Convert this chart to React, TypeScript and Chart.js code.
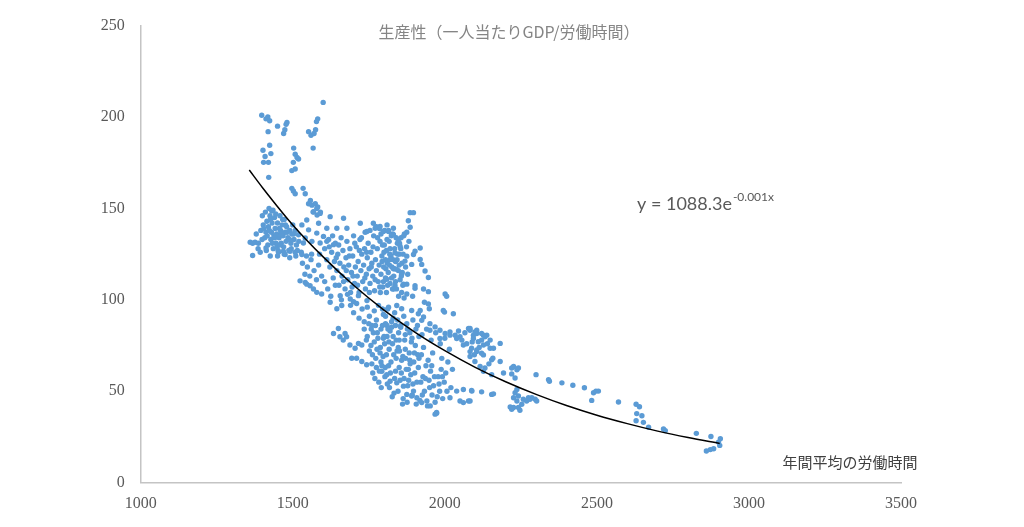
import React, { useEffect, useRef } from "react";
import { Chart, registerables } from "chart.js";

Chart.register(...registerables);

const chartTitle = "生産性（一人当たりGDP/労働時間）";
const xAxisTitle = "年間平均の労働時間";
const equationMain = "y = 1088.3e";
const equationExp = "-0.001x";

const xTicks = [1000, 1500, 2000, 2500, 3000, 3500];
const yTicks = [0, 50, 100, 150, 200, 250];

// Trend line (hours, productivity)
const trendHours = [1357, 1400, 1500, 1600, 1700, 1800, 1900, 2000, 2100, 2200, 2300, 2400, 2500, 2600, 2700, 2800, 2904];
const trendValues = [171, 161.5, 141, 123.5, 108, 94.4, 82.5, 72.2, 63.1, 55.2, 48.3, 42.2, 36.9, 32.3, 28.2, 24.7, 21.5];

// Scatter observations [annual hours, productivity]
const upperStreaks: [number, number][] = [
  [1600, 208], [1398, 201], [1412, 199], [1418, 200], [1424, 198], [1419, 192], [1450, 195], [1470, 191], [1474, 193], [1478, 196], [1481, 197],
  [1582, 199], [1578, 197.5], [1575, 193], [1552, 192], [1560, 190], [1570, 191], [1503, 183], [1567, 183], [1402, 181.8], [1424, 184.6],
  [1428, 180], [1409, 178.4], [1404, 175.2], [1420, 175.2], [1508, 179.6], [1514, 177.9], [1519, 177], [1502, 175.2], [1497, 170.7], [1508, 171.6],
  [1421, 167], [1497, 161], [1508, 158], [1502, 159.5], [1534, 161], [1541, 158], [1558, 154.4], [1552, 152.6], [1574, 152.6], [1582, 150.8],
  [1567, 148], [1591, 148], [1580, 146.4], [1431, 148.6],
];

const leftCluster: [number, number][] = [
  [1360, 131.5], [1368, 131], [1376, 131.5], [1387, 131], [1368, 124.3], [1380, 136], [1395, 138], [1403, 141], [1408, 134], [1412, 137],
  [1415, 143], [1418, 130], [1420, 140], [1425, 146], [1428, 133], [1430, 137], [1432, 142], [1436, 128], [1438, 135], [1440, 145],
  [1442, 139], [1445, 131], [1447, 136], [1450, 142], [1452, 127], [1455, 134], [1458, 146], [1460, 138], [1462, 131], [1465, 141],
  [1468, 135], [1470, 129], [1472, 144], [1475, 137], [1478, 132], [1480, 140], [1484, 134], [1487, 127], [1490, 138], [1494, 131],
  [1497, 136], [1500, 141], [1504, 133], [1508, 138], [1512, 130], [1400, 146], [1410, 148], [1422, 150], [1435, 149], [1413, 127],
  [1393, 126], [1426, 124], [1450, 124], [1472, 125], [1490, 123], [1510, 124], [1528, 126], [1545, 124], [1560, 122], [1520, 132],
  [1453, 126], [1469, 126.6], [1491, 126.6], [1508, 126], [1530, 124.8], [1475, 124.8], [1412, 128.4], [1535, 131.1],
  [1405, 139], [1416, 135], [1423, 138], [1433, 131], [1441, 134], [1448, 129], [1456, 139], [1463, 136], [1467, 144], [1476, 141],
  [1482, 137], [1489, 133], [1495, 128], [1503, 136], [1515, 127], [1444, 147], [1427, 144], [1399, 133], [1386, 128], [1457, 130],
  [1563, 151.8], [1579, 150], [1568, 148.2], [1590, 147.3], [1623, 145.5], [1667, 144.6], [1585, 141.9], [1612, 139.2], [1645, 139.2],
  [1678, 139.2], [1546, 143.7], [1530, 141], [1552, 138.3], [1579, 136.5], [1601, 134.7], [1519, 135.6], [1541, 133.8], [1563, 132],
  [1590, 131.1], [1612, 132], [1634, 130.2],
  [1532, 120], [1548, 118], [1556, 113], [1570, 116], [1585, 119], [1595, 113], [1578, 111], [1540, 114], [1562, 125], [1588, 125],
  [1524, 110.4], [1541, 109.5], [1557, 107.7], [1568, 105.9], [1546, 108.6], [1579, 104.1], [1595, 103.2],
];

const centralMass: [number, number][] = [
  [1605, 128], [1612, 122], [1618, 133], [1622, 118], [1628, 126], [1633, 112], [1637, 121], [1640, 131], [1645, 116], [1648, 125],
  [1652, 108], [1655, 120], [1659, 134], [1662, 113], [1665, 127], [1668, 118], [1672, 106], [1675, 123], [1678, 132], [1681, 111],
  [1684, 119], [1688, 128], [1690, 104], [1693, 115], [1697, 124], [1700, 135], [1703, 109], [1706, 118], [1709, 129], [1712, 113],
  [1715, 121], [1718, 104], [1721, 133], [1724, 116], [1727, 125], [1730, 110], [1733, 119], [1736, 128], [1739, 106], [1742, 114],
  [1745, 123], [1748, 131], [1751, 117], [1754, 109], [1757, 126], [1760, 120], [1763, 113], [1766, 135], [1769, 105], [1772, 122],
  [1775, 116], [1778, 128], [1781, 110], [1784, 119], [1787, 132], [1790, 114], [1793, 124], [1796, 107], [1799, 118], [1802, 138],
  [1805, 112], [1808, 127], [1811, 120], [1814, 115], [1817, 132], [1820, 109], [1823, 124], [1826, 118], [1829, 136], [1832, 113],
  [1835, 128], [1838, 121], [1841, 106], [1844, 131], [1847, 116], [1850, 125], [1853, 111], [1856, 134], [1859, 120], [1862, 108],
  [1790, 136], [1795, 130], [1800, 126], [1805, 122], [1810, 133], [1815, 138], [1820, 128], [1825, 112], [1830, 122], [1835, 117],
  [1840, 134], [1845, 125], [1850, 119], [1855, 128], [1860, 115], [1788, 104], [1798, 110], [1808, 104], [1818, 119], [1828, 106],
  [1838, 110], [1848, 102], [1858, 104], [1775, 140], [1785, 139], [1810, 141],
  [1620, 129], [1631, 135], [1643, 123], [1651, 130], [1667, 110], [1676, 116], [1686, 124], [1698, 113], [1704, 131], [1713, 108],
  [1719, 127], [1726, 134], [1737, 112], [1743, 126], [1752, 104], [1758, 118], [1764, 129], [1771, 111], [1779, 134], [1786, 107],
  [1794, 121], [1801, 130], [1806, 117], [1812, 108], [1819, 125], [1824, 135], [1831, 117], [1836, 108], [1843, 122], [1851, 131],
  [1857, 113], [1863, 125], [1867, 136], [1871, 118], [1874, 129], [1878, 114], [1882, 132], [1866, 101], [1738, 137], [1754, 138],
  [1605, 110], [1615, 106], [1625, 102], [1640, 108], [1660, 100], [1680, 103], [1700, 99], [1695, 107],
  [1656, 102.3], [1689, 100.5], [1716, 102.3], [1744, 99.6], [1661, 96.9], [1623, 98.7], [1645, 95.1],
];

const upperRight: [number, number][] = [
  [1722, 141.9], [1744, 137.4], [1765, 141.9], [1771, 139.2], [1787, 140.1], [1798, 137.4], [1815, 137.4], [1826, 135.6], [1831, 139.2],
  [1886, 147.7], [1897, 147.7], [1880, 143.3], [1886, 139.7], [1875, 137], [1865, 135],
  [1919, 128.4], [1902, 126.6], [1897, 124.8], [1875, 123.9], [1869, 121.2], [1891, 119.4], [1919, 122.1], [1924, 119.4], [1935, 115.8],
  [1946, 112.2], [1864, 108.6], [1875, 108.6], [1902, 107.7], [1902, 106.3], [1875, 103.2], [1894, 102], [1930, 105.9], [1946, 104.5],
  [1933, 98.7], [1949, 95.1], [2001, 103.2], [2006, 102], [1999, 93.3], [2028, 92.4],
  [1831, 135.6], [1847, 132.9], [1853, 129.3], [1836, 125.7], [1820, 122.1], [1842, 116.7], [1858, 114], [1809, 111.3], [1831, 105.9],
];

const lowerMass: [number, number][] = [
  [1634, 81.6], [1650, 84.3], [1672, 81.6], [1666, 78], [1655, 79.8], [1677, 79.8], [1688, 75.3], [1705, 73.5], [1716, 76.2], [1727, 75.3],
  [1694, 68.1], [1710, 68.1], [1727, 66.3], [1743, 64.5],
  [1690, 97], [1700, 93], [1710, 98], [1718, 90], [1728, 95], [1735, 88], [1745, 96], [1752, 91], [1760, 86], [1768, 94], [1775, 89],
  [1782, 97], [1790, 84], [1798, 92], [1805, 87], [1812, 95], [1820, 83], [1830, 90], [1838, 86],
  [1735, 84], [1742, 78], [1750, 87], [1757, 75], [1765, 82], [1772, 86], [1780, 79], [1787, 71], [1795, 86], [1802, 76], [1810, 80],
  [1817, 73], [1825, 85], [1832, 70], [1840, 78], [1847, 74], [1855, 86], [1862, 69], [1870, 73], [1877, 84], [1885, 67], [1892, 79],
  [1900, 71], [1760, 65], [1775, 63], [1790, 66], [1815, 64], [1850, 63], [1880, 62],
  [1795, 95], [1805, 91], [1815, 96], [1825, 88], [1835, 93], [1845, 89], [1855, 85], [1865, 91], [1875, 87], [1885, 82], [1895, 89],
  [1905, 84], [1915, 80], [1800, 80], [1810, 86], [1830, 80], [1850, 78], [1870, 81], [1890, 77],
  [1842, 96.9], [1858, 95.1], [1891, 94.2], [1913, 92.4], [1930, 90.6], [1924, 88.8], [1951, 87], [1968, 85.2], [1951, 83.4], [1984, 83.4],
  [1995, 94.2], [1946, 97.8], [1919, 94.2],
];

const bottomMass: [number, number][] = [
  [1745, 80], [1752, 72], [1758, 84], [1763, 60], [1768, 77], [1773, 68], [1778, 82], [1783, 55], [1788, 74], [1793, 64], [1798, 79],
  [1803, 58], [1808, 70], [1813, 84], [1818, 52], [1823, 66], [1828, 76], [1833, 49], [1838, 61], [1843, 72], [1848, 82], [1853, 56],
  [1858, 67], [1863, 46], [1868, 78], [1873, 62], [1878, 53], [1883, 71], [1888, 59], [1893, 48], [1898, 66], [1903, 75], [1908, 55],
  [1913, 63], [1918, 45], [1923, 70], [1928, 58], [1933, 50], [1938, 64], [1943, 42], [1948, 56], [1953, 61], [1958, 48], [1963, 53],
  [1968, 44], [1973, 38], [1978, 58], [1983, 50], [1988, 62], [1993, 46], [1998, 55], [2003, 60],
  [1793, 60.9], [1809, 59], [1820, 55.5], [1842, 54.6], [1864, 52.8], [1875, 48.3], [1897, 50.1], [1891, 47.4], [1908, 46.5], [1924, 43.8],
  [1941, 44.7], [1952, 42], [1968, 37.5], [1973, 38.4],
  [1762, 70], [1770, 57], [1777, 73], [1785, 61], [1791, 52], [1797, 69], [1804, 63], [1811, 54], [1816, 77], [1821, 60], [1827, 47],
  [1835, 57], [1840, 68], [1846, 50], [1851, 72], [1857, 60], [1861, 43], [1866, 57], [1871, 68], [1876, 44], [1881, 56], [1886, 65],
  [1895, 54], [1901, 60], [1906, 43], [1911, 70], [1921, 55], [1926, 48], [1936, 57], [1950, 52], [1957, 64], [1966, 58], [1975, 47],
  [1981, 54], [1992, 58], [2007, 50], [2020, 52],
  [1910, 86], [1925, 81], [1940, 84], [1955, 78], [1970, 82], [1985, 76], [2000, 79], [2015, 73], [1930, 74], [1960, 71], [1990, 68],
  [1945, 67], [1915, 68], [2010, 66], [2025, 62],
];

const rightCluster: [number, number][] = [
  [2001, 81.6], [2017, 82.5], [2034, 80.7], [2050, 79.8], [2083, 84.3], [2105, 83.4], [2127, 80.7], [2149, 78], [2094, 80.7],
  [1984, 78.9], [2017, 80.7], [2039, 78.9], [2061, 75.3], [2083, 71.7], [2105, 72.6], [2127, 69.9], [2149, 73.5], [2182, 76.2], [2121, 78],
  [2138, 80.7], [2105, 81.6], [2078, 84.3], [2154, 67.2], [2182, 66.3], [2193, 60], [2220, 62.7], [2231, 57.3], [2237, 61.8], [2154, 59.1],
  [2039, 50.1], [2061, 51], [2089, 50.1], [2121, 49.7], [2154, 48.3], [2017, 46.5], [2061, 43.8], [2078, 44.7], [2050, 44.7],
  [2083, 83.4], [2099, 82.5], [2121, 81.6], [2132, 79.8], [2094, 78.9], [2110, 77.1], [2127, 75.3], [2088, 73.5], [2105, 71.7], [2121, 70.8],
  [2083, 69], [2099, 66.3], [2116, 63.6], [2132, 62.7], [2127, 60.9], [2160, 73.5], [2158, 68.1], [2220, 59.5], [2226, 63.6], [2242, 62.7],
  [2045, 83], [2056, 78], [2066, 82], [2072, 76], [2090, 77], [2113, 74], [2097, 70], [2140, 76], [2145, 65],
  [2088, 50.4], [2160, 48.6], [2083, 44.7],
  [2226, 46.5], [2242, 47.4], [2258, 45.6], [2275, 46.5], [2286, 46.5], [2297, 45.6], [2302, 44.7], [2237, 44.7], [2226, 41.1], [2242, 41.1],
  [2253, 42.9], [2269, 44.7], [2280, 45.6], [2231, 49.2], [2237, 51], [2215, 41.4], [2220, 40.2], [2247, 39.6],
];

const longTail: [number, number][] = [
  [2300, 59.1], [2341, 56.4], [2344, 55.5], [2385, 54.6], [2421, 53.3], [2459, 51.9], [2489, 49.2], [2497, 50.1], [2505, 50.1], [2483, 45],
  [2571, 44.1], [2629, 42.9], [2640, 41.5], [2631, 37.8], [2648, 36.6], [2629, 33.9], [2653, 33], [2670, 30.3], [2719, 29.4],
  [2725, 28.5], [2827, 27], [2875, 25.3], [2906, 24], [2900, 22.2], [2904, 20.4], [2884, 18.6], [2873, 18.1], [2860, 17.3],
];

const allObservations = [
  ...upperStreaks, ...leftCluster, ...centralMass, ...upperRight, ...lowerMass, ...bottomMass, ...rightCluster, ...longTail,
];

const textPlugin = {
  id: "annotTexts",
  beforeDraw(chart: any) {
    const ctx = chart.ctx;
    ctx.save();
    ctx.fillStyle = "#ffffff";
    ctx.fillRect(0, 0, chart.width, chart.height);
    ctx.restore();
  },
  afterDraw(chart: any) {
    const ctx = chart.ctx;
    ctx.save();
    ctx.textBaseline = "middle";
    ctx.textAlign = "center";
    ctx.fillStyle = "#858585";
    ctx.font = '16px "Noto Sans CJK JP"';
    ctx.fillText(chartTitle, 509, 32);

    ctx.fillStyle = "#404040";
    ctx.font = '15px "Noto Sans CJK JP"';
    ctx.fillText(xAxisTitle, 850, 462);

    ctx.textAlign = "left";
    ctx.fillStyle = "#595959";
    ctx.font = '18px "Lato"';
    ctx.fillText(equationMain, 637, 204);
    const w = ctx.measureText(equationMain).width;
    ctx.font = '12px "Lato"';
    ctx.fillText(equationExp, 637 + w + 1, 197);
    ctx.restore();
  },
};

export default function App() {
  const ref = useRef<HTMLCanvasElement | null>(null);
  useEffect(() => {
    if (!ref.current) return;
    const chart = new Chart(ref.current, {
      type: "scatter",
      data: {
        datasets: [
          {
            type: "line",
            label: "trend",
            data: trendHours.map((h, i) => ({ x: h, y: trendValues[i] })),
            borderColor: "#000000",
            borderWidth: 1.5,
            pointRadius: 0,
            fill: false,
            cubicInterpolationMode: "monotone",
            order: 0,
          } as any,
          {
            label: "obs",
            data: allObservations.map(([x, y]) => ({ x, y })),
            backgroundColor: "#5B9BD5",
            borderWidth: 0,
            pointRadius: 2.7,
            order: 1,
          },
        ],
      },
      options: {
        responsive: false,
        animation: false,
        devicePixelRatio: 1,
        layout: { padding: { left: 0, right: 123, top: 20, bottom: 0 } },
        plugins: { legend: { display: false }, tooltip: { enabled: false }, title: { display: false } },
        scales: {
          x: {
            type: "linear",
            min: xTicks[0],
            max: xTicks[xTicks.length - 1],
            afterBuildTicks: (s: any) => { s.ticks = xTicks.map((v) => ({ value: v })); },
            afterFit: (s: any) => { s.height = 44.3; },
            grid: { display: false, drawTicks: false },
            border: { display: true, color: "#c4c4c4", width: 1.5 },
            ticks: {
              padding: 11,
              color: "#595959",
              font: { family: "Liberation Serif", size: 16 },
              callback: (v: any) => String(v),
            },
          },
          y: {
            min: yTicks[0],
            max: yTicks[yTicks.length - 1],
            afterBuildTicks: (s: any) => { s.ticks = yTicks.map((v) => ({ value: v })); },
            afterFit: (s: any) => { s.width = 140.7; },
            grid: { display: false, drawTicks: false },
            border: { display: true, color: "#c4c4c4", width: 1.5 },
            ticks: {
              padding: 16,
              color: "#595959",
              font: { family: "Liberation Serif", size: 16 },
              callback: (v: any) => String(v),
            },
          },
        },
      },
      plugins: [textPlugin],
    });
    return () => chart.destroy();
  }, []);
  return (
    <div style={{ position: "fixed", left: 0, top: 0, width: 1024, height: 527, background: "#fff" }}>
      <canvas ref={ref} width={1024} height={527} style={{ width: 1024, height: 527, display: "block" }} />
    </div>
  );
}
